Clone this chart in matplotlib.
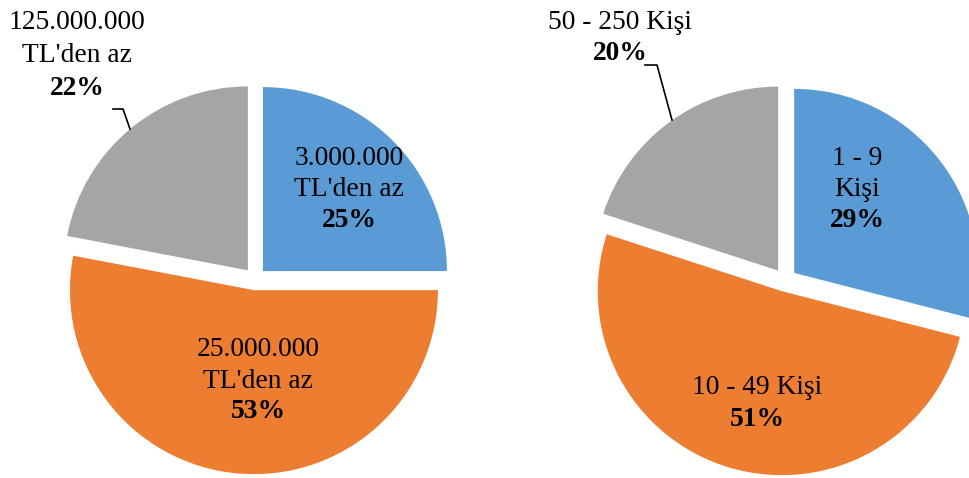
import matplotlib
matplotlib.use("Agg")
import matplotlib.pyplot as plt

# ---- data ----
left_names = ["3.000.000\nTL'den az", "25.000.000\nTL'den az", "125.000.000\nTL'den az"]
left_values = [25, 53, 22]
right_names = ["1 - 9\nKişi", "10 - 49 Kişi", "50 - 250 Kişi"]
right_values = [29, 51, 20]
colors = ["#5B9BD5", "#ED7D31", "#A5A5A5"]

W, H = 969, 478
fig = plt.figure(figsize=(W / 100, H / 100), dpi=100)
ax = fig.add_axes([0, 0, 1, 1])

R = 184
FS = 19.8
FONT = "Liberation Serif"

def draw_pie(center_px, values, offset):
    cx, cy = center_px
    ax.pie(values, colors=colors, startangle=90, counterclock=False,
           explode=[offset] * len(values), radius=R, center=(cx, H - cy),
           wedgeprops=dict(linewidth=0), frame=True)

draw_pie((255, 279), left_values, 11.2)
draw_pie((785, 280), right_values, 11.6)

def label(x, y_top, name, value, line_h=32):
    lines = name.split("\n")
    for i, ln in enumerate(lines):
        ax.text(x, H - (y_top + i * line_h), ln, ha="center", va="center",
                fontsize=FS, family=FONT, color="black")
    ax.text(x, H - (y_top + len(lines) * line_h), f"{value}%", ha="center",
            va="center", fontsize=FS, family=FONT, fontweight="bold", color="black")

# left pie labels
label(349, 158, left_names[0], left_values[0], line_h=31)
label(258, 350, left_names[1], left_values[1], line_h=31)
label(77, 22, left_names[2], left_values[2], line_h=33)
# right pie labels
label(857, 158, right_names[0], right_values[0], line_h=31)
label(757, 388, right_names[1], right_values[1], line_h=32)
label(620, 22, right_names[2], right_values[2], line_h=31)

# leader lines
ax.plot([113, 123, 130], [H - 109, H - 109, H - 129], color="black", lw=1.2)
ax.plot([645, 657, 672], [H - 65, H - 65, H - 120], color="black", lw=1.2)

ax.set_xlim(0, W)
ax.set_ylim(0, H)
ax.set_aspect("equal")
ax.axis("off")

fig.savefig("out.png", dpi=100)
